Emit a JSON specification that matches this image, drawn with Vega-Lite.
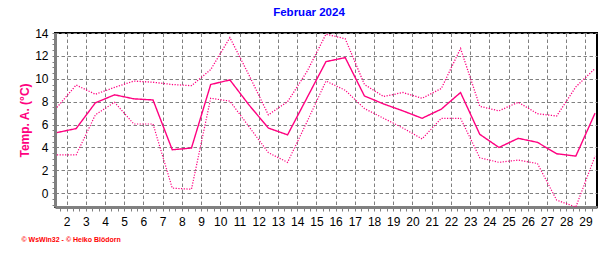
{
  "$schema": "https://vega.github.io/schema/vega-lite/v6.json",
  "width": 542,
  "height": 174,
  "autosize": {"type": "none"},
  "padding": {"left": 55, "top": 33, "right": 19, "bottom": 46},
  "background": "white",
  "title": {"text": "Februar 2024", "color": "#0000ff", "fontSize": 11.5, "font": "Liberation Sans", "fontWeight": "bold", "anchor": "middle", "dx": -17, "offset": 9},
  "config": {"view": {"stroke": "black", "strokeWidth": 2}},
  "data": {"values": [
    {"day": 1.5, "main": 5.3, "max": 7.5, "min": 3.35},
    {"day": 2.5, "main": 5.65, "max": 9.45, "min": 3.35},
    {"day": 3.5, "main": 7.9, "max": 8.65, "min": 6.85},
    {"day": 4.5, "main": 8.6, "max": 9.25, "min": 7.95},
    {"day": 5.5, "main": 8.25, "max": 9.8, "min": 6.05},
    {"day": 6.5, "main": 8.15, "max": 9.7, "min": 6.05},
    {"day": 7.5, "main": 3.8, "max": 9.5, "min": 0.45},
    {"day": 8.5, "main": 3.95, "max": 9.4, "min": 0.35},
    {"day": 9.5, "main": 9.5, "max": 10.8, "min": 8.3},
    {"day": 10.5, "main": 9.9, "max": 13.6, "min": 8.05},
    {"day": 11.5, "main": 7.7, "max": 10.3, "min": 5.8},
    {"day": 12.5, "main": 5.7, "max": 6.85, "min": 3.55},
    {"day": 13.5, "main": 5.1, "max": 8.0, "min": 2.7},
    {"day": 14.5, "main": 8.3, "max": 10.6, "min": 6.2},
    {"day": 15.5, "main": 11.5, "max": 13.9, "min": 9.8},
    {"day": 16.5, "main": 11.85, "max": 13.5, "min": 9.0},
    {"day": 17.5, "main": 8.5, "max": 9.5, "min": 7.4},
    {"day": 18.5, "main": 7.8, "max": 8.45, "min": 6.55},
    {"day": 19.5, "main": 7.2, "max": 8.8, "min": 5.7},
    {"day": 20.5, "main": 6.55, "max": 8.3, "min": 4.75},
    {"day": 21.5, "main": 7.35, "max": 9.15, "min": 6.55},
    {"day": 22.5, "main": 8.8, "max": 12.65, "min": 6.55},
    {"day": 23.5, "main": 5.15, "max": 7.6, "min": 3.1},
    {"day": 24.5, "main": 4.0, "max": 7.2, "min": 2.7},
    {"day": 25.5, "main": 4.8, "max": 7.95, "min": 2.9},
    {"day": 26.5, "main": 4.45, "max": 6.95, "min": 2.6},
    {"day": 27.5, "main": 3.45, "max": 6.75, "min": -0.6},
    {"day": 28.5, "main": 3.25, "max": 9.3, "min": -1.2},
    {"day": 29.5, "main": 7.0, "max": 10.9, "min": 3.25}
  ]},
  "transform": [{"fold": ["main", "max", "min"], "as": ["series", "temp"]}],
  "mark": {"type": "line", "color": "#ff0080", "clip": true},
  "encoding": {
    "x": {
      "field": "day", "type": "quantitative",
      "scale": {"domain": [1.4, 29.6], "nice": false, "zero": false},
      "axis": {
        "values": [1.6667, 2, 2.3333, 2.6667, 3, 3.3333, 3.6667, 4, 4.3333, 4.6667, 5, 5.3333, 5.6667, 6, 6.3333, 6.6667, 7, 7.3333, 7.6667, 8, 8.3333, 8.6667, 9, 9.3333, 9.6667, 10, 10.3333, 10.6667, 11, 11.3333, 11.6667, 12, 12.3333, 12.6667, 13, 13.3333, 13.6667, 14, 14.3333, 14.6667, 15, 15.3333, 15.6667, 16, 16.3333, 16.6667, 17, 17.3333, 17.6667, 18, 18.3333, 18.6667, 19, 19.3333, 19.6667, 20, 20.3333, 20.6667, 21, 21.3333, 21.6667, 22, 22.3333, 22.6667, 23, 23.3333, 23.6667, 24, 24.3333, 24.6667, 25, 25.3333, 25.6667, 26, 26.3333, 26.6667, 27, 27.3333, 27.6667, 28, 28.3333, 28.6667, 29, 29.3333],
        "labelExpr": "abs(datum.value - round(datum.value)) < 0.01 ? format(datum.value, 'd') : ''",
        "labelOverlap": false,
        "labelBound": false,
        "labelFlush": false,
        "labelFont": "Liberation Sans",
        "labelFontSize": 12,
        "labelColor": "black",
        "labelPadding": 5,
        "domainColor": "#808080",
        "domainWidth": 3,
        "tickColor": "#808080",
        "tickSize": 4,
        "tickWidth": 1,
        "grid": true,
        "gridColor": "#808080",
        "gridDash": [3.5, 2.5],
        "gridWidth": 1,
        "gridOpacity": {"condition": {"test": "abs(datum.value - round(datum.value)) > 0.01", "value": 0}, "value": 1},
        "title": "© WsWin32 - © Heiko Blödorn",
        "titleColor": "#ff0000",
        "titleFont": "Liberation Sans",
        "titleFontSize": 7,
        "titleFontWeight": "bold",
        "titleAlign": "left",
        "titleAnchor": "start",
        "titleBaseline": "alphabetic",
        "titleX": -34,
        "titleY": 34
      }
    },
    "y": {
      "field": "temp", "type": "quantitative",
      "scale": {"domain": [-1.2, 14], "nice": false, "zero": false},
      "axis": {
        "values": [-1, -0.5, 0, 0.5, 1, 1.5, 2, 2.5, 3, 3.5, 4, 4.5, 5, 5.5, 6, 6.5, 7, 7.5, 8, 8.5, 9, 9.5, 10, 10.5, 11, 11.5, 12, 12.5, 13, 13.5, 14],
        "labelExpr": "abs(datum.value % 2) < 0.01 ? format(datum.value, 'd') : ''",
        "labelOverlap": false,
        "labelBound": false,
        "labelFlush": false,
        "labelFont": "Liberation Sans",
        "labelFontSize": 12,
        "labelColor": "black",
        "labelPadding": 4,
        "domainColor": "#808080",
        "domainWidth": 3,
        "tickColor": "#808080",
        "tickSize": 3,
        "tickWidth": 1,
        "grid": true,
        "gridColor": "#808080",
        "gridDash": [3.5, 2.5],
        "gridWidth": 1,
        "gridOpacity": {"condition": {"test": "abs(datum.value % 2) > 0.01", "value": 0}, "value": 1},
        "title": "Temp. A. (°C)",
        "titleColor": "#ff0080",
        "titleFont": "Liberation Sans",
        "titleFontSize": 12,
        "titleFontWeight": "bold",
        "titlePadding": 3
      }
    },
    "strokeDash": {"field": "series", "type": "nominal", "scale": {"domain": ["main", "max", "min"], "range": [[1, 0], [1.2, 1.5], [1.2, 1.5]]}, "legend": null},
    "strokeWidth": {"field": "series", "type": "nominal", "scale": {"domain": ["main", "max", "min"], "range": [1.4, 1.2, 1.2]}, "legend": null}
  }
}
